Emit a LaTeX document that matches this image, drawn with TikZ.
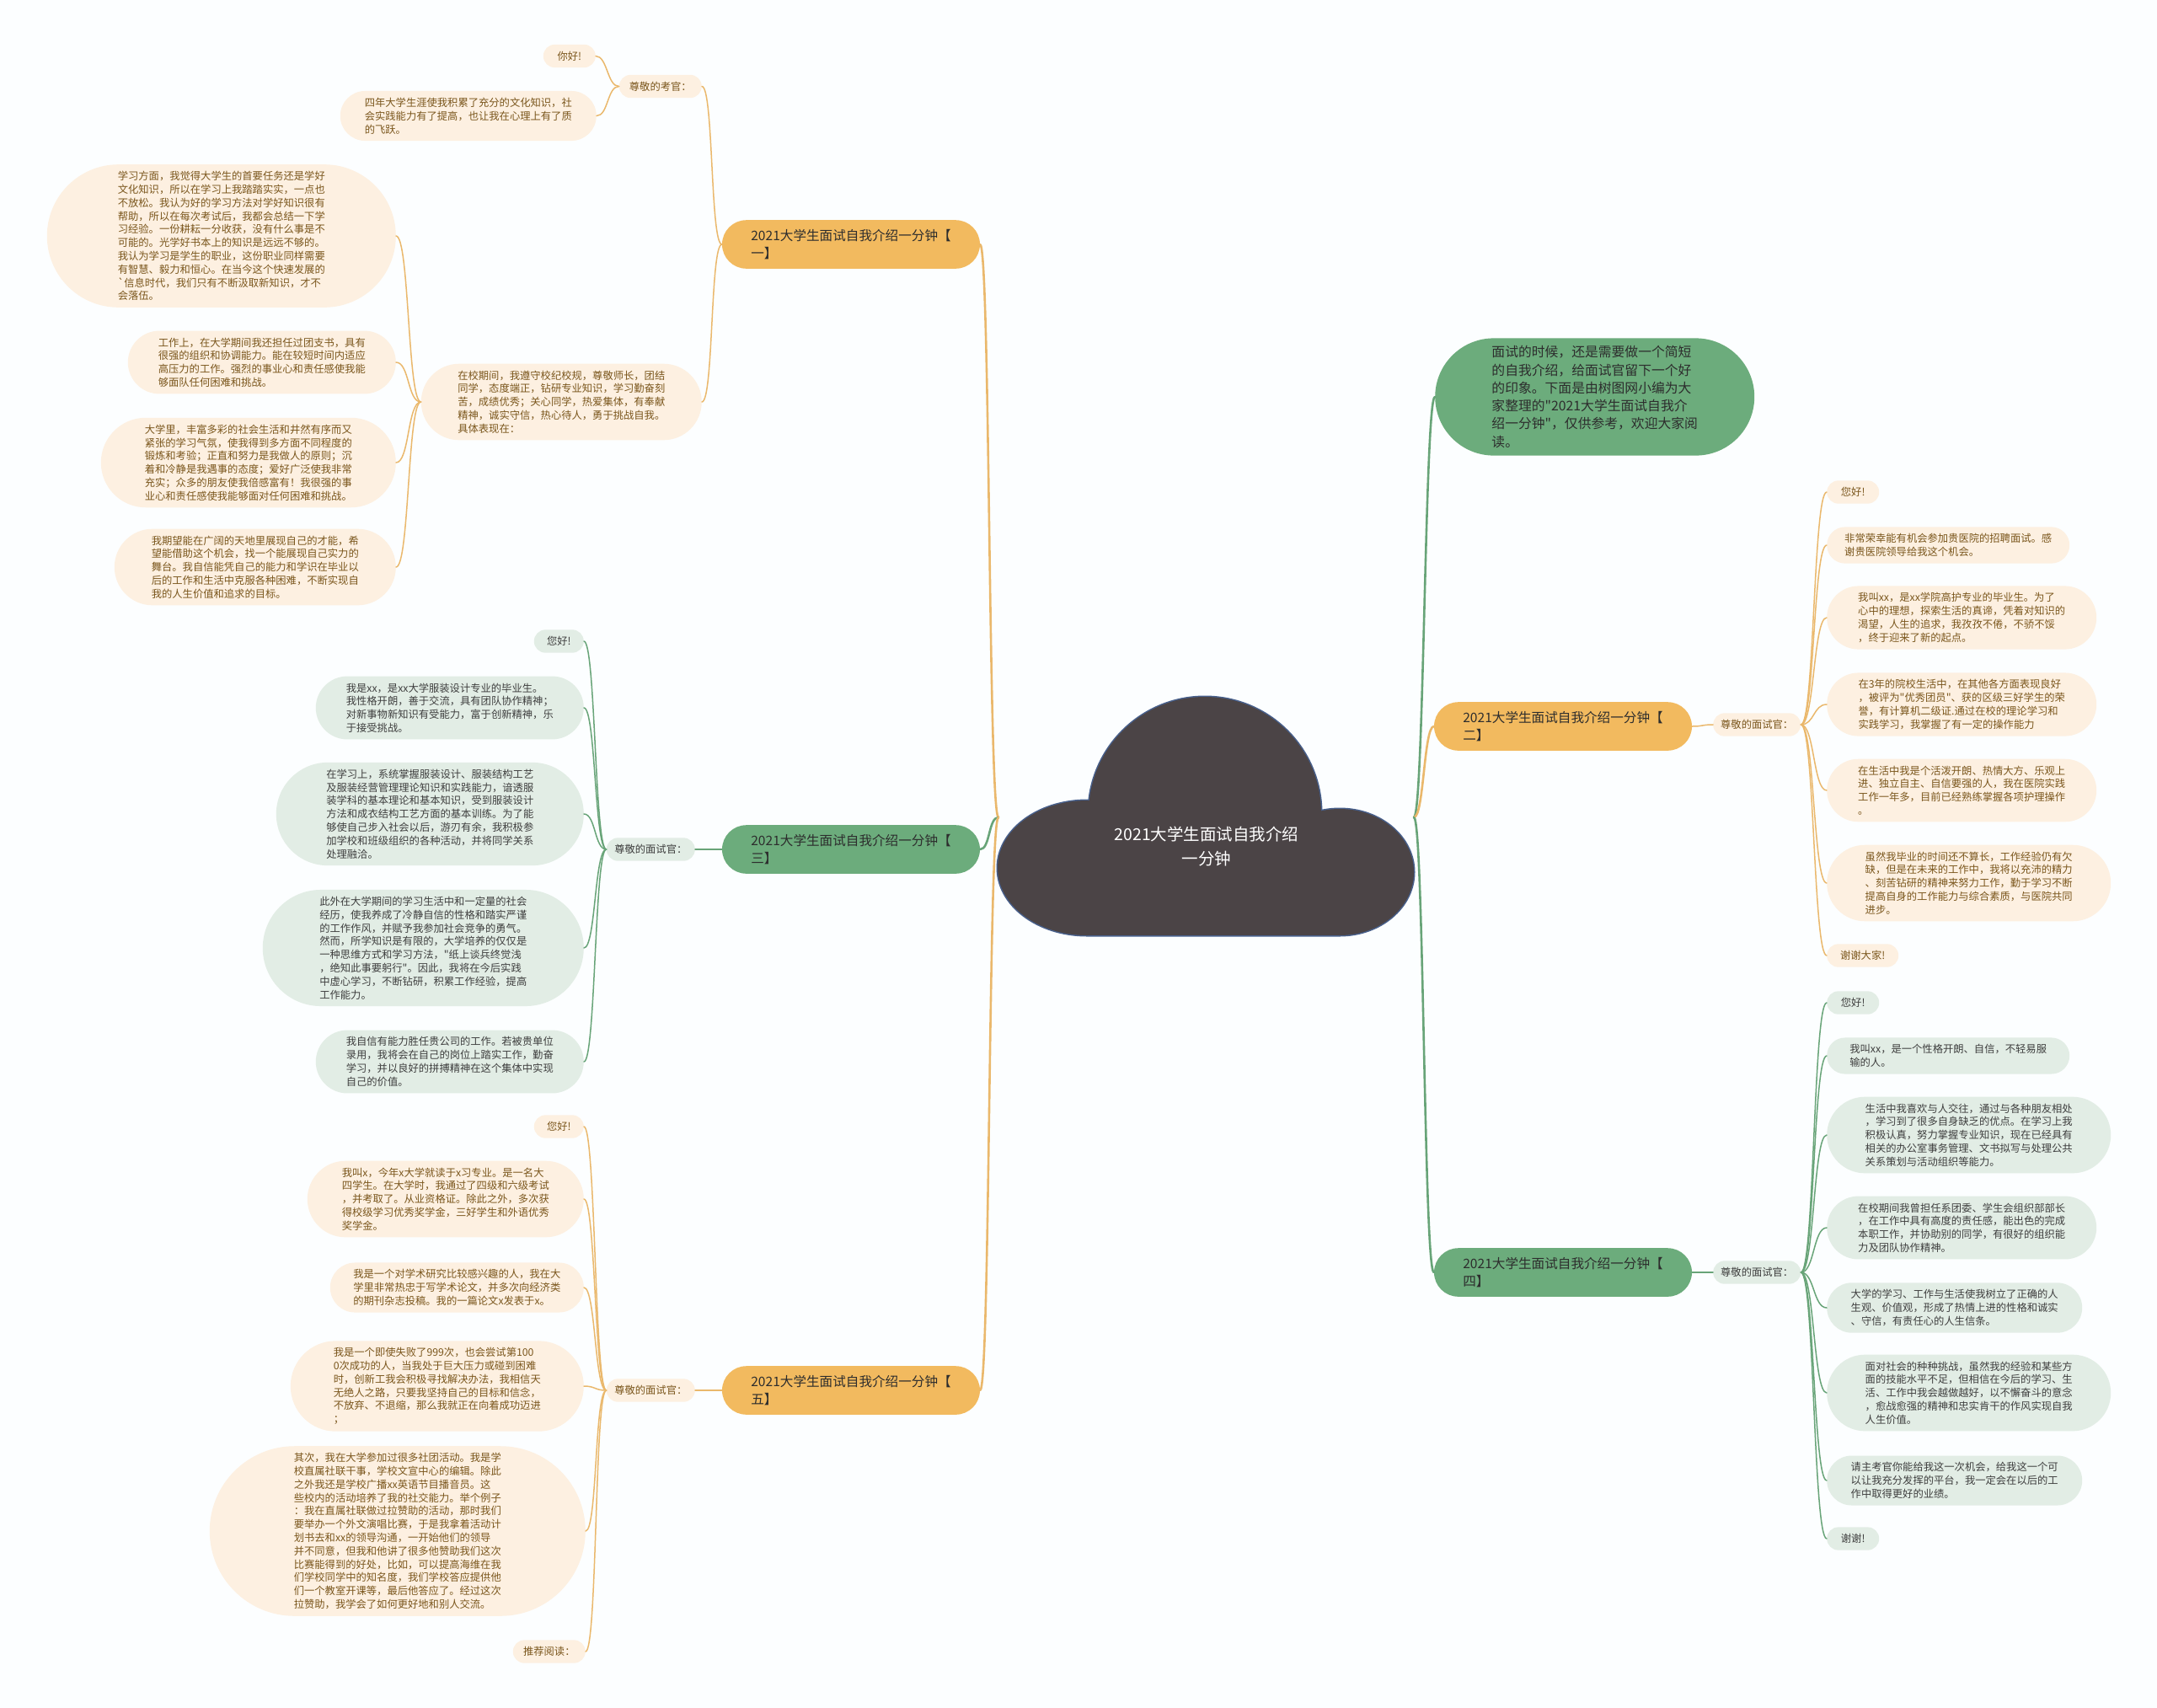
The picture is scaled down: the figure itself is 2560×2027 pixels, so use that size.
\documentclass[tikz,border=0pt]{standalone}
\usepackage{fontspec}
\setmainfont{Noto Sans CJK SC}
\usetikzlibrary{shapes.misc}

\definecolor{bgWhite}{RGB}{252,254,255}
\definecolor{cloudFill}{RGB}{75,68,70}
\definecolor{cloudRim}{RGB}{72,96,140}
\definecolor{orgMain}{RGB}{242,186,95}
\definecolor{orgSoft}{RGB}{253,240,225}
\definecolor{orgLine}{RGB}{234,184,108}
\definecolor{orgText}{RGB}{122,86,28}
\definecolor{grnMain}{RGB}{108,172,124}
\definecolor{grnSoft}{RGB}{226,237,229}
\definecolor{grnLine}{RGB}{104,164,120}
\definecolor{grnText}{RGB}{62,62,62}
\definecolor{mainText}{RGB}{45,45,45}

\begin{document}
\begin{tikzpicture}[x=1pt, y=-1pt, line cap=round, line join=round,
  leafO/.style={rounded rectangle, fill=orgSoft, text=orgText, inner xsep=1pt, inner ysep=8pt, minimum width=#1, align=left, font=\fontsize{12.3}{15.8}\selectfont},
  leafO/.default=64,
  leafG/.style={leafO=#1, fill=grnSoft, text=grnText},
  leafG/.default=64,
  branchO/.style={rounded rectangle, fill=orgMain, text=mainText, inner xsep=0pt, inner ysep=11pt, minimum width=306, align=left, font=\fontsize{15.6}{21}\selectfont},
  branchG/.style={branchO, fill=grnMain},
  trunkO/.style={draw=orgLine, line width=2.6pt},
  trunkG/.style={draw=grnLine, line width=2.6pt},
  linkO/.style={draw=orgLine, line width=1.5pt},
  linkG/.style={draw=grnLine, line width=1.5pt}]

  %% ════ 底色 ════
  \fill[bgWhite] (0,0) rectangle (2560,2027);

  %% ════ 中心云（先描边再逐块填充）════
  \draw[cloudRim, line width=3pt] (1430,965) circle (138) (1290,1030) ellipse (106 and 80) (1590,1035) ellipse (88 and 75) (1290,990) rectangle (1590,1110);
  \fill[cloudFill] (1430,965) circle (138);
  \fill[cloudFill] (1290,1030) ellipse (106 and 80);
  \fill[cloudFill] (1590,1035) ellipse (88 and 75);
  \fill[cloudFill] (1290,990) rectangle (1590,1110);
  \node[text=white, align=center, font=\fontsize{19.5}{29}\selectfont] (root) at (1432,1005) {2021大学生面试自我介绍\\一分钟};
  \coordinate (rootL) at (1185,970);
  \coordinate (rootR) at (1678,970);

  %% ════ 一级分支 ════
  \node[branchO] (b1) at (1010,290) {2021大学生面试自我介绍一分钟【\\一】};
  \node[branchG] (b3) at (1010,1008) {2021大学生面试自我介绍一分钟【\\三】};
  \node[branchO] (b5) at (1010,1650) {2021大学生面试自我介绍一分钟【\\五】};
  \node[branchO] (b2) at (1855,862) {2021大学生面试自我介绍一分钟【\\二】};
  \node[branchG] (b4) at (1855,1510) {2021大学生面试自我介绍一分钟【\\四】};
  \node[rounded rectangle, fill=grnMain, text=mainText, inner xsep=4pt, inner ysep=9pt, minimum width=387, align=left, font=\fontsize{15.8}{21.3}\selectfont, anchor=west] (intro) at (1703,471)
    {面试的时候，还是需要做一个简短\\的自我介绍，给面试官留下一个好\\的印象。下面是由树图网小编为大\\家整理的\textquotedbl 2021大学生面试自我介\\绍一分钟\textquotedbl ，仅供参考，欢迎大家阅\\读。};

  %% ════ 分支【一】════
  \node[leafO=100, anchor=east] (n1lab) at (833,102.5) {尊敬的考官：};
  \node[leafO=335, anchor=east] (n1s) at (833,477) {在校期间，我遵守校纪校规，尊敬师长，团结\\同学，态度端正，钻研专业知识，学习勤奋刻\\苦，成绩优秀；关心同学，热爱集体，有奉献\\精神，诚实守信，热心待人，勇于挑战自我。\\具体表现在：};
  \node[leafO=64, anchor=east] (n1hi) at (707,66.5) {你好!};
  \node[leafO=306, anchor=east] (n1a) at (708,137.5) {四年大学生涯使我积累了充分的文化知识，社\\会实践能力有了提高，也让我在心理上有了质\\的飞跃。};
  \node[leafO=416, anchor=east] (n1b) at (470,280) {学习方面，我觉得大学生的首要任务还是学好\\文化知识，所以在学习上我踏踏实实，一点也\\不放松。我认为好的学习方法对学好知识很有\\帮助，所以在每次考试后，我都会总结一下学\\习经验。一份耕耘一分收获，没有什么事是不\\可能的。光学好书本上的知识是远远不够的。\\我认为学习是学生的职业，这份职业同样需要\\有智慧、毅力和恒心。在当今这个快速发展的\\\textasciigrave 信息时代，我们只有不断汲取新知识，才不\\会落伍。};
  \node[leafO=320, anchor=east] (n1c) at (470,430) {工作上，在大学期间我还担任过团支书，具有\\很强的组织和协调能力。能在较短时间内适应\\高压力的工作。强烈的事业心和责任感使我能\\够面队任何困难和挑战。};
  \node[leafO=352, anchor=east] (n1d) at (470,549) {大学里，丰富多彩的社会生活和井然有序而又\\紧张的学习气氛，使我得到多方面不同程度的\\锻炼和考验；正直和努力是我做人的原则；沉\\着和冷静是我遇事的态度；爱好广泛使我非常\\充实；众多的朋友使我倍感富有！我很强的事\\业心和责任感使我能够面对任何困难和挑战。};
  \node[leafO=336, anchor=east] (n1e) at (470,673) {我期望能在广阔的天地里展现自己的才能，希\\望能借助这个机会，找一个能展现自己实力的\\舞台。我自信能凭自己的能力和学识在毕业以\\后的工作和生活中克服各种困难，不断实现自\\我的人生价值和追求的目标。};

  %% ════ 分支【三】════
  \node[leafG=107, anchor=east] (n3lab) at (825,1008) {尊敬的面试官：};
  \node[leafG=61, anchor=east] (n3hi) at (693,761) {您好!};
  \node[leafG=320, anchor=east] (n3a) at (693,840) {我是xx，是xx大学服装设计专业的毕业生。\\我性格开朗，善于交流，具有团队协作精神；\\对新事物新知识有受能力，富于创新精神，乐\\于接受挑战。};
  \node[leafG=367, anchor=east] (n3b) at (693,966) {在学习上，系统掌握服装设计、服装结构工艺\\及服装经营管理理论知识和实践能力，谙透服\\装学科的基本理论和基本知识，受到服装设计\\方法和成衣结构工艺方面的基本训练。为了能\\够使自己步入社会以后，游刃有余，我积极参\\加学校和班级组织的各种活动，并将同学关系\\处理融洽。};
  \node[leafG=383, anchor=east] (n3c) at (693,1125) {此外在大学期间的学习生活中和一定量的社会\\经历，使我养成了冷静自信的性格和踏实严谨\\的工作作风，并赋予我参加社会竞争的勇气。\\然而，所学知识是有限的，大学培养的仅仅是\\一种思维方式和学习方法，\textquotedbl 纸上谈兵终觉浅\\，绝知此事要躬行\textquotedbl 。因此，我将在今后实践\\中虚心学习，不断钻研，积累工作经验，提高\\工作能力。};
  \node[leafG=320, anchor=east] (n3d) at (693,1260) {我自信有能力胜任贵公司的工作。若被贵单位\\录用，我将会在自己的岗位上踏实工作，勤奋\\学习，并以良好的拼搏精神在这个集体中实现\\自己的价值。};

  %% ════ 分支【五】════
  \node[leafO=107, anchor=east] (n5lab) at (825,1650) {尊敬的面试官：};
  \node[leafO=61, anchor=east] (n5hi) at (693,1337) {您好!};
  \node[leafO=330, anchor=east] (n5a) at (693,1423) {我叫x，今年x大学就读于x习专业。是一名大\\四学生。在大学时，我通过了四级和六级考试\\，并考取了。从业资格证。除此之外，多次获\\得校级学习优秀奖学金，三好学生和外语优秀\\奖学金。};
  \node[leafO=303, anchor=east] (n5b) at (693,1528) {我是一个对学术研究比较感兴趣的人，我在大\\学里非常热忠于写学术论文，并多次向经济类\\的期刊杂志投稿。我的一篇论文x发表于x。};
  \node[leafO=350, anchor=east] (n5c) at (693,1645) {我是一个即使失败了999次，也会尝试第100\\0次成功的人，当我处于巨大压力或碰到困难\\时，创新工我会积极寻找解决办法，我相信天\\无绝人之路，只要我坚持自己的目标和信念，\\不放弃、不退缩，那么我就正在向着成功迈进\\；};
  \node[leafO=448, anchor=east] (n5d) at (695,1817) {其次，我在大学参加过很多社团活动。我是学\\校直属社联干事，学校文宣中心的编辑。除此\\之外我还是学校广播xx英语节目播音员。这\\些校内的活动培养了我的社交能力。举个例子\\：我在直属社联做过拉赞助的活动，那时我们\\要举办一个外文演唱比赛，于是我拿着活动计\\划书去和xx的领导沟通，一开始他们的领导\\并不同意，但我和他讲了很多他赞助我们这次\\比赛能得到的好处，比如，可以提高海维在我\\们学校同学中的知名度，我们学校答应提供他\\们一个教室开课等，最后他答应了。经过这次\\拉赞助，我学会了如何更好地和别人交流。};
  \node[leafO=88, anchor=east] (n5e) at (695,1960) {推荐阅读：};

  %% ════ 分支【二】════
  \node[leafO=106, anchor=west] (n2lab) at (2033,860) {尊敬的面试官：};
  \node[leafO=64, anchor=west] (n2hi) at (2168,584) {您好!};
  \node[leafO=290, anchor=west] (n2a) at (2168,647) {非常荣幸能有机会参加贵医院的招聘面试。感\\谢贵医院领导给我这个机会。};
  \node[leafO=322, anchor=west] (n2b) at (2168,733) {我叫xx，是xx学院高护专业的毕业生。为了\\心中的理想，探索生活的真谛，凭着对知识的\\渴望，人生的追求，我孜孜不倦，不骄不馁\\，终于迎来了新的起点。};
  \node[leafO=322, anchor=west] (n2c) at (2168,836) {在3年的院校生活中，在其他各方面表现良好\\，被评为\textquotedbl 优秀团员\textquotedbl 、获的区级三好学生的荣\\誉，有计算机二级证.通过在校的理论学习和\\实践学习，我掌握了有一定的操作能力};
  \node[leafO=322, anchor=west] (n2d) at (2168,938) {在生活中我是个活泼开朗、热情大方、乐观上\\进、独立自主、自信要强的人，我在医院实践\\工作一年多，目前已经熟练掌握各项护理操作\\。};
  \node[leafO=339, anchor=west] (n2e) at (2168,1048) {虽然我毕业的时间还不算长，工作经验仍有欠\\缺，但是在未来的工作中，我将以充沛的精力\\、刻苦钻研的精神来努力工作，勤于学习不断\\提高自身的工作能力与综合素质，与医院共同\\进步。};
  \node[leafO=87, anchor=west] (n2f) at (2168,1134) {谢谢大家!};

  %% ════ 分支【四】════
  \node[leafG=106, anchor=west] (n4lab) at (2033,1510) {尊敬的面试官：};
  \node[leafG=64, anchor=west] (n4hi) at (2168,1190) {您好!};
  \node[leafG=290, anchor=west] (n4a) at (2168,1253) {我叫xx，是一个性格开朗、自信，不轻易服\\输的人。};
  \node[leafG=339, anchor=west] (n4b) at (2168,1347) {生活中我喜欢与人交往，通过与各种朋友相处\\，学习到了很多自身缺乏的优点。在学习上我\\积极认真，努力掌握专业知识，现在已经具有\\相关的办公室事务管理、文书拟写与处理公共\\关系策划与活动组织等能力。};
  \node[leafG=322, anchor=west] (n4c) at (2168,1457) {在校期间我曾担任系团委、学生会组织部部长\\，在工作中具有高度的责任感，能出色的完成\\本职工作，并协助别的同学，有很好的组织能\\力及团队协作精神。};
  \node[leafG=305, anchor=west] (n4d) at (2168,1552) {大学的学习、工作与生活使我树立了正确的人\\生观、价值观，形成了热情上进的性格和诚实\\、守信，有责任心的人生信条。};
  \node[leafG=339, anchor=west] (n4e) at (2168,1653) {面对社会的种种挑战，虽然我的经验和某些方\\面的技能水平不足，但相信在今后的学习、生\\活、工作中我会越做越好，以不懈奋斗的意念\\，愈战愈强的精神和忠实肯干的作风实现自我\\人生价值。};
  \node[leafG=305, anchor=west] (n4f) at (2168,1757) {请主考官你能给我这一次机会，给我这一个可\\以让我充分发挥的平台，我一定会在以后的工\\作中取得更好的业绩。};
  \node[leafG=64, anchor=west] (n4g) at (2168,1826) {谢谢!};

  %% ════ 主干连线（云 → 分支）════
  \draw[trunkO] (rootL) .. controls +(-12,0) and +(12,0) .. (b1.east);
  \draw[trunkG] (rootL) .. controls +(-12,0) and +(12,0) .. (b3.east);
  \draw[trunkO] (rootL) .. controls +(-12,0) and +(12,0) .. (b5.east);
  \draw[trunkG] (rootR) .. controls +(12,0) and +(-12,0) .. (intro.west);
  \draw[trunkO] (rootR) .. controls +(12,0) and +(-12,0) .. (b2.west);
  \draw[trunkG] (rootR) .. controls +(12,0) and +(-12,0) .. (b4.west);

  %% ════ 分支 → 二级 ════
  \draw[linkO] (b1.west) .. controls +(-14,0) and +(14,0) .. (n1lab.east);
  \draw[linkO] (b1.west) .. controls +(-14,0) and +(14,0) .. (n1s.east);
  \draw[linkG] (b3.west) .. controls +(-14,0) and +(14,0) .. (n3lab.east);
  \draw[linkO] (b5.west) .. controls +(-14,0) and +(14,0) .. (n5lab.east);
  \draw[linkO] (b2.east) .. controls +(14,0) and +(-14,0) .. (n2lab.west);
  \draw[linkG] (b4.east) .. controls +(14,0) and +(-14,0) .. (n4lab.west);

  %% ════ 二级 → 叶子 ════
  \draw[linkO] (n1lab.west) .. controls +(-14,0) and +(14,0) .. (n1hi.east);
  \draw[linkO] (n1lab.west) .. controls +(-14,0) and +(14,0) .. (n1a.east);
  \draw[linkO] (n1s.west) .. controls +(-16,0) and +(16,0) .. (n1b.east);
  \draw[linkO] (n1s.west) .. controls +(-16,0) and +(16,0) .. (n1c.east);
  \draw[linkO] (n1s.west) .. controls +(-16,0) and +(16,0) .. (n1d.east);
  \draw[linkO] (n1s.west) .. controls +(-16,0) and +(16,0) .. (n1e.east);

  \draw[linkG] (n3lab.west) .. controls +(-14,0) and +(14,0) .. (n3hi.east);
  \draw[linkG] (n3lab.west) .. controls +(-14,0) and +(14,0) .. (n3a.east);
  \draw[linkG] (n3lab.west) .. controls +(-14,0) and +(14,0) .. (n3b.east);
  \draw[linkG] (n3lab.west) .. controls +(-14,0) and +(14,0) .. (n3c.east);
  \draw[linkG] (n3lab.west) .. controls +(-14,0) and +(14,0) .. (n3d.east);

  \draw[linkO] (n5lab.west) .. controls +(-14,0) and +(14,0) .. (n5hi.east);
  \draw[linkO] (n5lab.west) .. controls +(-14,0) and +(14,0) .. (n5a.east);
  \draw[linkO] (n5lab.west) .. controls +(-14,0) and +(14,0) .. (n5b.east);
  \draw[linkO] (n5lab.west) .. controls +(-14,0) and +(14,0) .. (n5c.east);
  \draw[linkO] (n5lab.west) .. controls +(-14,0) and +(14,0) .. (n5d.east);
  \draw[linkO] (n5lab.west) .. controls +(-14,0) and +(14,0) .. (n5e.east);

  \draw[linkO] (n2lab.east) .. controls +(16,0) and +(-16,0) .. (n2hi.west);
  \draw[linkO] (n2lab.east) .. controls +(16,0) and +(-16,0) .. (n2a.west);
  \draw[linkO] (n2lab.east) .. controls +(16,0) and +(-16,0) .. (n2b.west);
  \draw[linkO] (n2lab.east) .. controls +(16,0) and +(-16,0) .. (n2c.west);
  \draw[linkO] (n2lab.east) .. controls +(16,0) and +(-16,0) .. (n2d.west);
  \draw[linkO] (n2lab.east) .. controls +(16,0) and +(-16,0) .. (n2e.west);
  \draw[linkO] (n2lab.east) .. controls +(16,0) and +(-16,0) .. (n2f.west);

  \draw[linkG] (n4lab.east) .. controls +(16,0) and +(-16,0) .. (n4hi.west);
  \draw[linkG] (n4lab.east) .. controls +(16,0) and +(-16,0) .. (n4a.west);
  \draw[linkG] (n4lab.east) .. controls +(16,0) and +(-16,0) .. (n4b.west);
  \draw[linkG] (n4lab.east) .. controls +(16,0) and +(-16,0) .. (n4c.west);
  \draw[linkG] (n4lab.east) .. controls +(16,0) and +(-16,0) .. (n4d.west);
  \draw[linkG] (n4lab.east) .. controls +(16,0) and +(-16,0) .. (n4e.west);
  \draw[linkG] (n4lab.east) .. controls +(16,0) and +(-16,0) .. (n4f.west);
  \draw[linkG] (n4lab.east) .. controls +(16,0) and +(-16,0) .. (n4g.west);

  % 钉死画布
  \pgfresetboundingbox
  \path[use as bounding box] (0,0) rectangle (2560,2027);
\end{tikzpicture}
\end{document}
